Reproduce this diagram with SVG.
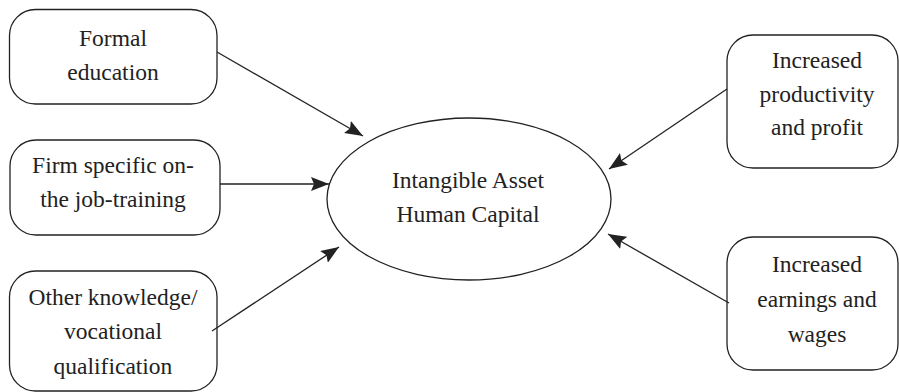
<svg xmlns="http://www.w3.org/2000/svg" width="899" height="392" viewBox="0 0 899 392">
<style>
.box{fill:#fff;stroke:#222;stroke-width:1.3}
.t{font-family:'Liberation Serif','Times New Roman','DejaVu Serif',serif;font-size:23.5px;fill:#222;text-anchor:middle}
.c{stroke:#222;stroke-width:1.3;fill:none;marker-end:url(#ah)}
</style>
<defs>
<marker id="ah" markerUnits="userSpaceOnUse" markerWidth="20" markerHeight="14" viewBox="0 0 20 14" refX="18" refY="7" orient="auto">
<path d="M0,0 L18,7 L0,14 L3,7 Z" fill="#222"/>
</marker>
</defs>
<rect width="899" height="392" fill="#fff"/>
<g id="formal">
<rect class="box" x="9.5" y="9.5" width="207.5" height="94.5" rx="26"/>
<text class="t" x="113" y="46">Formal</text>
<text class="t" x="113" y="80">education</text>
</g>
<g id="firm">
<rect class="box" x="10" y="140" width="210" height="95" rx="26"/>
<text class="t" x="113" y="173">Firm specific on-</text>
<text class="t" x="113" y="207">the job-training</text>
</g>
<g id="other">
<rect class="box" x="9.5" y="271" width="207.5" height="120" rx="26"/>
<text class="t" x="113" y="305">Other knowledge/</text>
<text class="t" x="113" y="339">vocational</text>
<text class="t" x="113" y="374">qualification</text>
</g>
<g id="center">
<ellipse class="box" cx="469" cy="199" rx="142" ry="81"/>
<text class="t" x="468" y="188">Intangible Asset</text>
<text class="t" x="468" y="222">Human Capital</text>
</g>
<g id="productivity">
<rect class="box" x="727" y="35" width="171" height="133" rx="26"/>
<text class="t" x="817" y="68">Increased</text>
<text class="t" x="817" y="102">productivity</text>
<text class="t" x="817" y="135">and profit</text>
</g>
<g id="earnings">
<rect class="box" x="727" y="237" width="171" height="133" rx="26"/>
<text class="t" x="817" y="272">Increased</text>
<text class="t" x="817" y="307">earnings and</text>
<text class="t" x="817" y="342">wages</text>
</g>
<g id="connectors">
<line class="c" x1="217" y1="52" x2="363" y2="136"/>
<line class="c" x1="220" y1="184" x2="329" y2="184"/>
<line class="c" x1="212" y1="331" x2="339" y2="247"/>
<line class="c" x1="727" y1="89" x2="609" y2="169"/>
<line class="c" x1="729" y1="303" x2="608" y2="234"/>
</g>
</svg>
